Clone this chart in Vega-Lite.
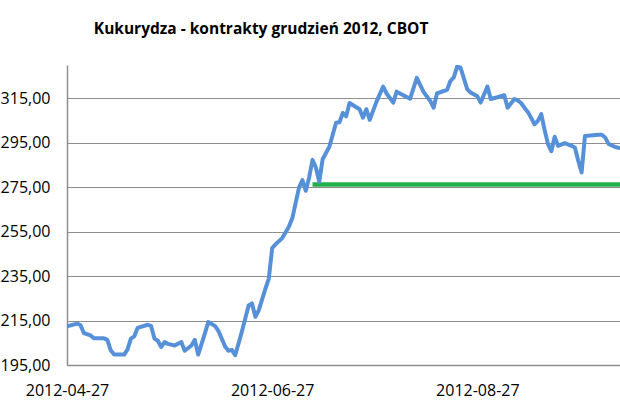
{
  "$schema": "https://vega.github.io/schema/vega-lite/v6.json",
  "width": 553,
  "height": 300,
  "autosize": {"type": "none"},
  "padding": {"left": 67, "top": 65, "right": 0, "bottom": 48},
  "background": "white",
  "config": {
    "view": {"stroke": null},
    "font": "Open Sans"
  },
  "title": {
    "text": "Kukurydza - kontrakty grudzień 2012, CBOT",
    "font": "Open Sans",
    "fontSize": 15.5,
    "fontWeight": "bold",
    "color": "#000000",
    "anchor": "start",
    "align": "center",
    "dx": 261,
    "baseline": "alphabetic",
    "offset": 16
  },
  "datasets": {
    "price": [
      {"d": "2012-04-27", "v": 212.4},
      {"d": "2012-04-30", "v": 213.6},
      {"d": "2012-05-01", "v": 213.0},
      {"d": "2012-05-02", "v": 209.4},
      {"d": "2012-05-04", "v": 208.3},
      {"d": "2012-05-05", "v": 207.0},
      {"d": "2012-05-08", "v": 207.0},
      {"d": "2012-05-09", "v": 206.3},
      {"d": "2012-05-10", "v": 201.6},
      {"d": "2012-05-11", "v": 199.7},
      {"d": "2012-05-14", "v": 199.7},
      {"d": "2012-05-15", "v": 202.0},
      {"d": "2012-05-16", "v": 206.9},
      {"d": "2012-05-17", "v": 207.9},
      {"d": "2012-05-18", "v": 211.7},
      {"d": "2012-05-21", "v": 213.1},
      {"d": "2012-05-22", "v": 212.6},
      {"d": "2012-05-23", "v": 206.9},
      {"d": "2012-05-24", "v": 205.9},
      {"d": "2012-05-25", "v": 203.1},
      {"d": "2012-05-26", "v": 205.3},
      {"d": "2012-05-27", "v": 204.5},
      {"d": "2012-05-29", "v": 203.8},
      {"d": "2012-05-31", "v": 205.3},
      {"d": "2012-06-01", "v": 201.4},
      {"d": "2012-06-03", "v": 203.8},
      {"d": "2012-06-04", "v": 206.3},
      {"d": "2012-06-05", "v": 199.7},
      {"d": "2012-06-07", "v": 209.2},
      {"d": "2012-06-08", "v": 214.3},
      {"d": "2012-06-10", "v": 212.6},
      {"d": "2012-06-11", "v": 210.4},
      {"d": "2012-06-13", "v": 203.4},
      {"d": "2012-06-14", "v": 201.4},
      {"d": "2012-06-15", "v": 201.8},
      {"d": "2012-06-16", "v": 199.4},
      {"d": "2012-06-17", "v": 204.7},
      {"d": "2012-06-18", "v": 210.1},
      {"d": "2012-06-20", "v": 221.8},
      {"d": "2012-06-21", "v": 222.7},
      {"d": "2012-06-22", "v": 216.7},
      {"d": "2012-06-23", "v": 219.6},
      {"d": "2012-06-25", "v": 229.4},
      {"d": "2012-06-26", "v": 233.9},
      {"d": "2012-06-27", "v": 247.6},
      {"d": "2012-06-28", "v": 249.3},
      {"d": "2012-06-30", "v": 252.1},
      {"d": "2012-07-02", "v": 257.3},
      {"d": "2012-07-03", "v": 261.1},
      {"d": "2012-07-05", "v": 274.9},
      {"d": "2012-07-06", "v": 278.2},
      {"d": "2012-07-07", "v": 273.4},
      {"d": "2012-07-08", "v": 279.4},
      {"d": "2012-07-09", "v": 287.3},
      {"d": "2012-07-10", "v": 283.9},
      {"d": "2012-07-11", "v": 277.5},
      {"d": "2012-07-12", "v": 287.6},
      {"d": "2012-07-14", "v": 293.2},
      {"d": "2012-07-16", "v": 304.0},
      {"d": "2012-07-17", "v": 304.2},
      {"d": "2012-07-18", "v": 308.4},
      {"d": "2012-07-19", "v": 306.9},
      {"d": "2012-07-20", "v": 312.9},
      {"d": "2012-07-23", "v": 310.1},
      {"d": "2012-07-24", "v": 306.3},
      {"d": "2012-07-25", "v": 310.1},
      {"d": "2012-07-26", "v": 305.3},
      {"d": "2012-07-28", "v": 313.4},
      {"d": "2012-07-30", "v": 320.3},
      {"d": "2012-07-31", "v": 317.2},
      {"d": "2012-08-02", "v": 313.1},
      {"d": "2012-08-03", "v": 318.0},
      {"d": "2012-08-07", "v": 314.8},
      {"d": "2012-08-09", "v": 324.2},
      {"d": "2012-08-11", "v": 317.9},
      {"d": "2012-08-13", "v": 313.8},
      {"d": "2012-08-14", "v": 310.8},
      {"d": "2012-08-15", "v": 317.2},
      {"d": "2012-08-17", "v": 318.3},
      {"d": "2012-08-18", "v": 318.8},
      {"d": "2012-08-19", "v": 322.8},
      {"d": "2012-08-20", "v": 324.4},
      {"d": "2012-08-21", "v": 329.3},
      {"d": "2012-08-22", "v": 328.8},
      {"d": "2012-08-24", "v": 319.1},
      {"d": "2012-08-25", "v": 317.6},
      {"d": "2012-08-27", "v": 315.9},
      {"d": "2012-08-28", "v": 313.1},
      {"d": "2012-08-30", "v": 320.3},
      {"d": "2012-08-31", "v": 314.7},
      {"d": "2012-09-02", "v": 315.5},
      {"d": "2012-09-04", "v": 316.4},
      {"d": "2012-09-05", "v": 310.8},
      {"d": "2012-09-07", "v": 314.7},
      {"d": "2012-09-08", "v": 314.1},
      {"d": "2012-09-09", "v": 312.9},
      {"d": "2012-09-10", "v": 310.8},
      {"d": "2012-09-11", "v": 308.9},
      {"d": "2012-09-12", "v": 306.2},
      {"d": "2012-09-13", "v": 303.3},
      {"d": "2012-09-14", "v": 304.9},
      {"d": "2012-09-15", "v": 307.9},
      {"d": "2012-09-16", "v": 300.8},
      {"d": "2012-09-17", "v": 294.4},
      {"d": "2012-09-18", "v": 291.2},
      {"d": "2012-09-19", "v": 297.7},
      {"d": "2012-09-20", "v": 293.6},
      {"d": "2012-09-22", "v": 294.8},
      {"d": "2012-09-24", "v": 293.6},
      {"d": "2012-09-25", "v": 292.9},
      {"d": "2012-09-26", "v": 286.9},
      {"d": "2012-09-27", "v": 281.6},
      {"d": "2012-09-28", "v": 298.1},
      {"d": "2012-10-02", "v": 298.6},
      {"d": "2012-10-03", "v": 298.6},
      {"d": "2012-10-04", "v": 297.4},
      {"d": "2012-10-05", "v": 294.5},
      {"d": "2012-10-07", "v": 293.1},
      {"d": "2012-10-08", "v": 292.7}
    ],
    "level": [
      {"d": "2012-07-09", "v": 276.2},
      {"d": "2012-10-10", "v": 276.2}
    ]
  },
  "encoding": {
    "x": {
      "field": "d",
      "type": "temporal",
      "title": null,
      "scale": {
        "type": "utc",
        "domain": [
          {"year": 2012, "month": 4, "date": 27, "utc": true},
          {"year": 2012, "month": 10, "date": 8, "hours": 10, "utc": true}
        ]
      },
      "axis": {
        "values": [
          {"year": 2012, "month": 4, "date": 27, "utc": true},
          {"year": 2012, "month": 6, "date": 27, "utc": true},
          {"year": 2012, "month": 8, "date": 27, "utc": true}
        ],
        "labelExpr": "utcFormat(datum.value, '%Y-%m-%d')",
        "grid": false,
        "ticks": false,
        "domainColor": "#8e8e8e",
        "domainWidth": 1.5,
        "labelFont": "Open Sans",
        "labelFontSize": 16,
        "labelColor": "#000000",
        "labelPadding": 17,
        "labelFlush": false,
        "labelOverlap": false
      }
    },
    "y": {
      "field": "v",
      "type": "quantitative",
      "title": null,
      "scale": {"domain": [195, 330], "nice": false, "zero": false},
      "axis": {
        "values": [195, 215, 235, 255, 275, 295, 315],
        "labelExpr": "replace(format(datum.value, '.2f'), '.', ',')",
        "grid": true,
        "gridColor": "#8e8e8e",
        "gridWidth": 1.2,
        "ticks": false,
        "domainColor": "#8e8e8e",
        "domainWidth": 1.5,
        "labelFont": "Open Sans",
        "labelFontSize": 16,
        "labelColor": "#000000",
        "labelPadding": 17,
        "labelFlush": false
      }
    }
  },
  "layer": [
    {
      "data": {"name": "level"},
      "mark": {"type": "line", "color": "#22b04b", "strokeWidth": 4.5, "clip": true}
    },
    {
      "data": {"name": "price"},
      "mark": {"type": "line", "color": "#5590d8", "strokeWidth": 4, "strokeJoin": "round", "strokeCap": "round", "clip": true}
    }
  ]
}
